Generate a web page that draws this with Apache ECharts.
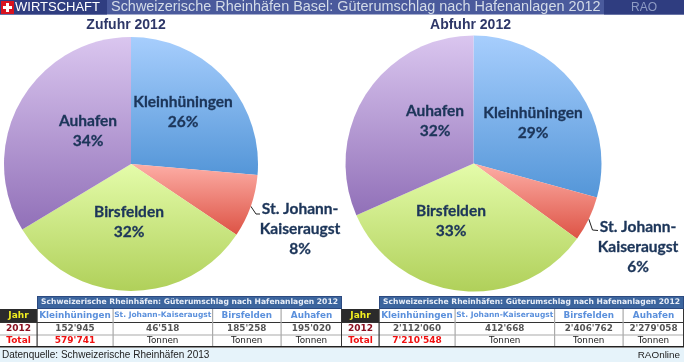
<!DOCTYPE html>
<html><head><meta charset="utf-8">
<style>html,body{margin:0;padding:0;background:#fff}#c{width:684px;height:362px}</style>
<script src="https://cdn.jsdelivr.net/npm/echarts@6/dist/echarts.min.js"></script>
</head><body><div id="c"></div>
<script>
const ports = ['Kleinhüningen','St. Johann-Kaiseraugst','Birsfelden','Auhafen'];
const zufuhr = [152945,46518,185258,195020];
const abfuhr = [2112060,412668,2406762,2279058];
const zufuhrTotal = "579'741";
const abfuhrTotal = "7'210'548";
const zufuhrCells = ["152'945","46'518","185'258","195'020"];
const abfuhrCells = ["2'112'060","412'668","2'406'762","2'279'058"];
const bannerLead = 'WIRTSCHAFT';
const bannerTitle = 'Schweizerische Rheinhäfen Basel: Güterumschlag nach Hafenanlagen 2012';
const tableTitle = 'Schweizerische Rheinhäfen: Güterumschlag nach Hafenanlagen 2012';

const fills = [['#a7cefd','#5496d8'],['#fdaea6','#dd5345'],['#e4fcaa','#b0d05a'],['#dac6ef','#9170b8']];
const labelPos1 = [[183,111.5],[300,229],[129,221.5],[88,131]];
const labelPos2 = [[533,123],[638,246.5],[451,221],[435,121]];
const leader1 = [[256,214],[260,214]];
const leader2 = [[592.5,230],[598,230.5]];

function grad(a,b){return {type:'linear',x:0,y:0,x2:0,y2:1,colorStops:[{offset:0,color:a},{offset:1,color:b}]};}
function pie(values,center,radius,pos,leader){
  return {
    type:'pie',center:center,radius:radius,startAngle:90,clockwise:true,silent:true,animation:false,
    data:ports.map((n,i)=>({
      name:n,value:values[i],
      itemStyle:{color:grad(fills[i][0],fills[i][1])},
      label: i===1?{position:'outside'}:{position:'inside'},
      labelLine:{show:i===1,length:6,length2:4,lineStyle:{color:'#222',width:1}}
    })),
    label:{show:true,color:'#1c3559',fontFamily:'Lato',fontWeight:'bold',fontSize:15.5,lineHeight:20,align:'center',overflow:'none',
      textBorderColor:'#1c3559',textBorderWidth:0.3,
      formatter:p=>p.name.replace('-','-\n')+'\n'+Math.round(p.percent)+'%'},
    labelLayout:p=>{
      const out={x:pos[p.dataIndex][0],y:pos[p.dataIndex][1],align:'center',verticalAlign:'middle'};
      if(p.dataIndex===1&&p.labelLinePoints)out.labelLinePoints=[p.labelLinePoints[0],leader[0],leader[1]];
      return out;
    }
  };
}

const g=[];
function R(x,y,w,h,fill){g.push({type:'rect',silent:true,shape:{x,y,width:w,height:h},style:{fill}});}
function T(x,y,text,font,fill,align){g.push({type:'text',silent:true,x,y,style:{text,font,fill,align:align||'center',verticalAlign:'middle'}});}

// banner
R(0,0,684,14.5,'#4a5a9c');
R(0,0,107,14.5,'#2f3d80');
R(604,0,80,14.5,'#2f3d80');
R(1,1,13,13,'#d8121f');
R(6,3,3,9,'#fff');R(3,6,9,3,'#fff');
T(15,7.5,bannerLead,'13px "Liberation Sans"','#ffffff','left');
T(111,7.5,bannerTitle,'14.45px "Liberation Sans"','#d3dbe8','left');
T(644,7.5,'RAO','12px "Liberation Sans"','#8f9cc4');

// pie titles
T(126,25,'Zufuhr 2012','bold 14px "Liberation Sans"','#2e3768');
T(470.5,25,'Abfuhr 2012','bold 14px "Liberation Sans"','#2e3768');
T(181,258,'RAO','11.5px "Liberation Sans"','#e6f0b8');
T(531,258,'RAO','11.5px "Liberation Sans"','#e6f0b8');

// tables
const colEdges=[37,113,212.5,281,342];
function table(ox,cells,total){
  R(ox+37,296,305,13,'#2c4a80');
  R(ox+38,297,303,11,'#3c659e');
  T(ox+189.5,302.5,tableTitle,'bold 7.6px "DejaVu Sans"','#e8eef8');
  R(ox,309,37,13,'#2b2b2b');
  T(ox+18.5,315.5,'Jahr','bold 9px "DejaVu Sans"','#f2ee20');
  R(ox,322,342,1,'#333');
  R(ox,334.5,342,1,'#aaa');
  R(ox,346,342,1.4,'#222');
  [37,113,212.5,281].forEach(x=>R(ox+x-0.5,309,1.2,37,x===37?'#333':'#aaa'));
  R(ox+341,309,1,37,'#333');
  T(ox+18.5,328.5,'2012','bold 9px "DejaVu Sans"','#8b1020');
  T(ox+18.5,341,'Total','bold 9px "DejaVu Sans"','#f01010');
  ports.forEach((p,i)=>{
    const cx=(colEdges[i]+colEdges[i+1])/2+ox;
    T(cx,315.5,p,i===1?'bold 7.5px "DejaVu Sans"':'bold 8.8px "DejaVu Sans"','#5b90dc');
    T(cx,328.5,cells[i],'bold 8.8px "DejaVu Sans"','#555');
    if(i===0)T(cx,341,total,'bold 9px "DejaVu Sans"','#f01010');
    else T(cx,341,'Tonnen','8.8px "DejaVu Sans"','#222');
  });
}
R(0,348,684,14,'#e6f3fa');
table(0,zufuhrCells,zufuhrTotal);
table(342,abfuhrCells,abfuhrTotal);
T(2,355,'Datenquelle: Schweizerische Rheinhäfen 2013','10px "Liberation Sans"','#222','left');
T(680,355,'RAOnline','9.9px "Liberation Sans"','#222','right');

const chart=echarts.init(document.getElementById('c'));
chart.setOption({
  animation:false,
  backgroundColor:'#fff',
  series:[pie(zufuhr,[131,164],127,labelPos1,leader1),pie(abfuhr,[473.5,163.5],128,labelPos2,leader2)],
  graphic:{elements:g}
});
</script></body></html>
